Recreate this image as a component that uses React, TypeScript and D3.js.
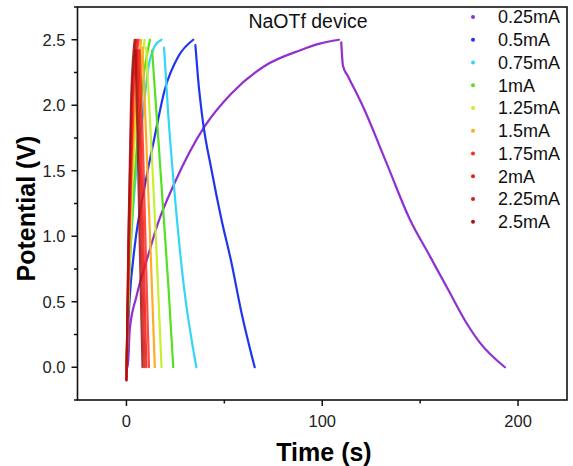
import React from "react";
import * as d3 from "d3";

const W = 573;
const H = 466;

type P = [number, number];

const labels = ["0.25mA", "0.5mA", "0.75mA", "1mA", "1.25mA", "1.5mA", "1.75mA", "2mA", "2.25mA", "2.5mA"];
const colors = ["#9030d0", "#1f35ee", "#35d6f5", "#55e021", "#c6f032", "#ffab24", "#ff2a22", "#f21a14", "#e01812", "#a01414"];

const charge025: P[] = [[0, -0.02], [0.8, 0.03], [1.7, 0.29], [5.1, 0.54], [11, 0.85], [16.1, 1.1], [24.7, 1.41], [40, 1.84], [53.6, 2.09], [70.6, 2.3], [88.8, 2.42], [98.7, 2.47], [108.5, 2.5]];
const dis025: P[] = [[109.7, 2.48], [110.6, 2.3], [113.2, 2.22], [120.8, 1.99], [132.8, 1.56], [144.7, 1.13], [154.9, 0.85], [165.1, 0.57], [173.6, 0.34], [180.4, 0.19], [193.3, 0.0]];
const charge05: P[] = [[0, 0], [0.5, 0.2], [1.7, 0.54], [4.2, 0.92], [9.3, 1.38], [14.4, 1.76], [19.6, 2.12], [26.4, 2.37], [34.1, 2.5]];
const dis05: P[] = [[35.2, 2.46], [36.6, 2.2], [39.1, 1.87], [43.4, 1.51], [48.5, 1.13], [53.6, 0.8], [58.7, 0.42], [65.5, 0]];
const charge075: P[] = [[0, 0], [0.6, 0.4], [2.5, 1.0], [5, 1.5], [8.5, 1.94], [11, 2.27], [14.4, 2.45], [17.9, 2.5]];
const dis075: P[] = [[19.2, 2.44], [21.3, 1.94], [24.7, 1.31], [28.9, 0.67], [35.7, 0]];
const charge1: P[] = [[0, 0], [1.5, 0.7], [3.5, 1.3], [6, 1.8], [9, 2.25], [12, 2.5]];
const dis1: P[] = [[13.1, 2.42], [16, 1.8], [19, 1.15], [21.5, 0.6], [23.9, 0]];
const charge125: P[] = [[0, 0], [1.5, 0.8], [3, 1.4], [5.5, 2.0], [9.3, 2.5]];
const dis125: P[] = [[10.1, 2.44], [12.5, 1.75], [15, 1.0], [17.9, 0]];
const charge15: P[] = [[0, 0], [1.2, 0.8], [2.5, 1.4], [4.5, 2.0], [7.5, 2.5]];
const dis15: P[] = [[8.2, 2.44], [10.2, 1.7], [12.3, 0.9], [14.5, 0]];
const charge175: P[] = [[0, -0.08], [1.5, 1.0], [3.5, 2.0], [6.3, 2.5]];
const dis175: P[] = [[6.9, 2.42], [8.6, 1.6], [10, 0.8], [11.5, 0]];
const charge2: P[] = [[0, -0.1], [1.3, 1.0], [3, 2.0], [5.5, 2.5]];
const dis2: P[] = [[6, 2.42], [7.6, 1.6], [8.9, 0.8], [10.2, 0]];
const charge225: P[] = [[0, -0.1], [1.1, 1.0], [2.6, 2.0], [4.8, 2.5]];
const dis225: P[] = [[5.2, 2.42], [6.7, 1.6], [8, 0.8], [9.2, 0]];
const charge25: P[] = [[0, -0.1], [1, 1.0], [2.3, 2.0], [4.2, 2.5]];
const dis25: P[] = [[4.6, 2.42], [5.9, 1.6], [7, 0.8], [8.2, 0]];

const charges = [charge025, charge05, charge075, charge1, charge125, charge15, charge175, charge2, charge225, charge25];
const discharges = [dis025, dis05, dis075, dis1, dis125, dis15, dis175, dis2, dis225, dis25];

const xMajor = [0, 100, 200];
const xMinor = [50, 150];
const yMajor = [0, 0.5, 1, 1.5, 2, 2.5];
const yMinor = [-0.25, 0.25, 0.75, 1.25, 1.75, 2.25, 2.75];

const left = 77.5;
const right = 567;
const top = 7;
const bottom = 400;

export default function App() {
  const x = d3.scaleLinear().domain([-25, 225]).range([left, right]);
  const y = d3.scaleLinear().domain([-0.25, 2.75]).range([bottom, top]);
  const line = d3
    .line<P>()
    .x((d) => x(d[0]))
    .y((d) => y(d[1]))
    .curve(d3.curveMonotoneX);
  const font = "'Liberation Sans', Arial, sans-serif";
  const legY0 = 17;
  const legStep = 22.75;
  return (
    <svg width={W} height={H} style={{ position: "absolute", left: 0, top: 0, background: "#fff" }} fontFamily={font}>
      <rect x={0} y={0} width={W} height={H} fill="#fff" />
      {charges.map((c, i) => (
        <g key={i} opacity={i >= 6 ? 0.85 : 1}>
          <path d={line(c) || ""} fill="none" stroke={colors[i]} strokeWidth={2.2} strokeLinecap="round" />
          <path d={line(discharges[i]) || ""} fill="none" stroke={colors[i]} strokeWidth={2.2} strokeLinecap="round" />
        </g>
      ))}
      {/* frame */}
      <rect x={left} y={top} width={right - left} height={bottom - top} fill="none" stroke="#111" strokeWidth={1.6} />
      {/* x ticks */}
      {xMajor.map((t) => (
        <g key={"xm" + t}>
          <line x1={x(t)} x2={x(t)} y1={bottom} y2={bottom + 6} stroke="#111" strokeWidth={1.5} />
          <text x={x(t)} y={bottom + 27} textAnchor="middle" fontSize={16.5} fill="#222">
            {t}
          </text>
        </g>
      ))}
      {xMinor.map((t) => (
        <line key={"xn" + t} x1={x(t)} x2={x(t)} y1={bottom} y2={bottom + 3.5} stroke="#111" strokeWidth={1.5} />
      ))}
      {yMajor.map((v) => (
        <g key={"ym" + v}>
          <line x1={left - 6} x2={left} y1={y(v)} y2={y(v)} stroke="#111" strokeWidth={1.5} />
          <text x={left - 12} y={y(v) + 6} textAnchor="end" fontSize={16.5} fill="#222">
            {v.toFixed(1)}
          </text>
        </g>
      ))}
      {yMinor.map((v) => (
        <line key={"yn" + v} x1={left - 3.5} x2={left} y1={y(v)} y2={y(v)} stroke="#111" strokeWidth={1.5} />
      ))}
      <text x={324} y={461} textAnchor="middle" fontSize={25} fontWeight="bold" fill="#000">
        Time (s)
      </text>
      <text
        transform={`translate(35,${(top + bottom) / 2 + 5}) rotate(-90)`}
        textAnchor="middle"
        fontSize={25}
        fontWeight="bold"
        fill="#000"
      >
        Potential (V)
      </text>
      <text x={308} y={28.3} textAnchor="middle" fontSize={19.5} fill="#111">
        NaOTf device
      </text>
      {labels.map((l, i) => (
        <g key={l}>
          <circle cx={473} cy={legY0 + i * legStep} r={2} fill={colors[i]} />
          <text x={498} y={legY0 + i * legStep + 6.3} fontSize={18} fill="#111">
            {l}
          </text>
        </g>
      ))}
    </svg>
  );
}
